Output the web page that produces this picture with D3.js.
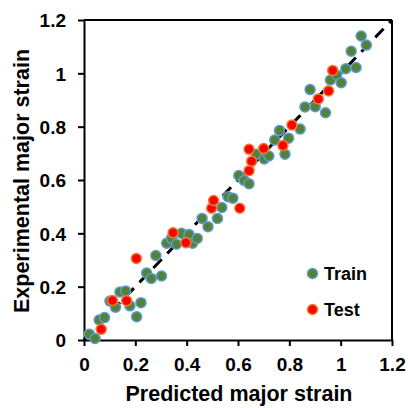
<!DOCTYPE html>
<html>
<head>
<meta charset="utf-8">
<script src="https://cdn.jsdelivr.net/npm/d3@7"></script>
<style>
  html, body { margin: 0; padding: 0; background: #fff; }
  svg { display: block; font-family: "Liberation Sans", Arial, sans-serif; font-weight: bold; }
</style>
</head>
<body>
<svg id="chart" width="408" height="408"></svg>
<script>
const trainX = [0.021,0.043,0.059,0.080,0.101,0.123,0.140,0.162,0.179,0.222,0.205,0.244,0.262,0.302,0.280,0.322,0.341,0.360,0.380,0.409,0.423,0.441,0.460,0.483,0.520,0.537,0.561,0.580,0.603,0.624,0.643,0.671,0.702,0.720,0.743,0.762,0.783,0.797,0.842,0.861,0.901,0.941,0.881,0.960,0.984,1.002,1.020,1.060,1.041,1.080,1.100];
const trainY = [0.022,0.006,0.075,0.084,0.146,0.123,0.180,0.184,0.128,0.140,0.087,0.251,0.231,0.240,0.317,0.363,0.381,0.359,0.400,0.396,0.363,0.381,0.456,0.425,0.456,0.497,0.537,0.532,0.617,0.598,0.586,0.697,0.679,0.690,0.750,0.786,0.697,0.757,0.791,0.874,0.875,0.852,0.939,0.975,0.994,0.965,1.017,1.022,1.083,1.140,1.106];
const testX = [0.067,0.111,0.166,0.204,0.347,0.397,0.497,0.505,0.607,0.643,0.653,0.643,0.700,0.775,0.810,0.913,0.953,0.969];
const testY = [0.040,0.148,0.147,0.306,0.402,0.365,0.494,0.523,0.494,0.635,0.670,0.715,0.718,0.729,0.806,0.904,0.934,1.011];
const xTicks = [0, 0.2, 0.4, 0.6, 0.8, 1, 1.2];
const yTicks = [0, 0.2, 0.4, 0.6, 0.8, 1, 1.2];
const seriesNames = ["Train", "Test"];
const xLabel = "Predicted major strain";
const yLabel = "Experimental major strain";

const svg = d3.select("#chart");
const L = 84, R = 392, T = 20, B = 340;
const x = d3.scaleLinear().domain([0, 1.2]).range([L, R]);
const y = d3.scaleLinear().domain([0, 1.2]).range([B, T]);
const fmt = d => d === 0 ? "0" : (d === 1 ? "1" : d3.format(".1f")(d));

// box top/right
svg.append("line").attr("x1", L).attr("x2", R).attr("y1", T).attr("y2", T).attr("stroke", "#000").attr("stroke-width", 2);
svg.append("line").attr("x1", R).attr("x2", R).attr("y1", T).attr("y2", B).attr("stroke", "#000").attr("stroke-width", 2);

// axes
const xAxis = svg.append("g").attr("transform", `translate(0,${B})`)
  .call(d3.axisBottom(x).tickValues(xTicks).tickFormat(fmt).tickSize(6).tickPadding(12).tickSizeOuter(0));
const yAxis = svg.append("g").attr("transform", `translate(${L},0)`)
  .call(d3.axisLeft(y).tickValues(yTicks).tickFormat(fmt).tickSize(6).tickPadding(12).tickSizeOuter(0));
[xAxis, yAxis].forEach(g => {
  g.select(".domain").attr("stroke", "#000").attr("stroke-width", 2);
  g.selectAll(".tick line").attr("stroke", "#000").attr("stroke-width", 2);
  g.selectAll("text").attr("fill", "#000").style("font-size", "19px").style("font-weight", "bold")
    .style("font-family", "'Liberation Sans', Arial, sans-serif");
});
xAxis.selectAll(".tick text").attr("dy", "0.71em");
yAxis.selectAll(".tick text").attr("dy", "0.36em");

// 1:1 dashed line
svg.append("line")
  .attr("x1", x(0)).attr("y1", y(0)).attr("x2", x(1.2)).attr("y2", y(1.2))
  .attr("stroke", "#000").attr("stroke-width", 3).attr("stroke-dasharray", "12,8");

// points
svg.append("g").selectAll("circle").data(trainX.map((v, i) => [v, trainY[i]])).join("circle")
  .attr("cx", d => x(d[0])).attr("cy", d => y(d[1])).attr("r", 5)
  .attr("fill", "#548235").attr("stroke", "#5b9bd5").attr("stroke-width", 1.5);
svg.append("g").selectAll("circle").data(testX.map((v, i) => [v, testY[i]])).join("circle")
  .attr("cx", d => x(d[0])).attr("cy", d => y(d[1])).attr("r", 5)
  .attr("fill", "#ff0000").attr("stroke", "#ed7d31").attr("stroke-width", 1.5);

// legend
const legend = svg.append("g");
const legColors = [["#548235", "#5b9bd5"], ["#ff0000", "#ed7d31"]];
seriesNames.forEach((name, i) => {
  const cy = 273.5 + i * 36;
  legend.append("circle").attr("cx", 312.5).attr("cy", cy).attr("r", 5)
    .attr("fill", legColors[i][0]).attr("stroke", legColors[i][1]).attr("stroke-width", 1.5);
  legend.append("text").attr("x", 324).attr("y", cy + 6.5).text(name)
    .style("font-size", "18px").attr("fill", "#000");
});

// axis titles
svg.append("text").attr("x", 239).attr("y", 401).attr("text-anchor", "middle")
  .style("font-size", "21.5px").attr("fill", "#000").text(xLabel);
svg.append("text").attr("transform", "translate(29,181) rotate(-90)").attr("text-anchor", "middle")
  .style("font-size", "21.5px").attr("fill", "#000").text(yLabel);
</script>
</body>
</html>
